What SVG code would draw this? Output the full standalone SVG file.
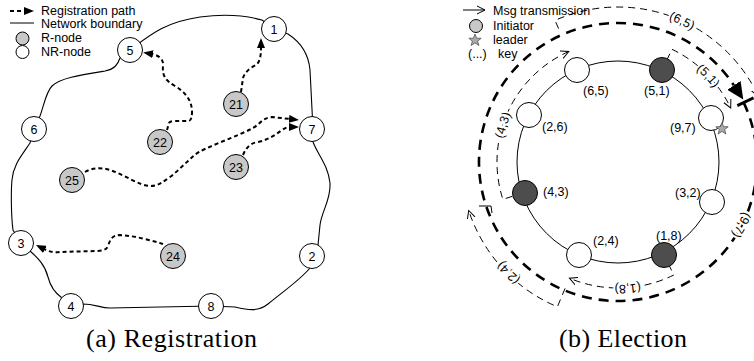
<svg xmlns="http://www.w3.org/2000/svg" width="754" height="361" viewBox="0 0 754 361">
  <style>
    .lbl { font-family: "Liberation Sans", Arial, sans-serif; font-size: 12.5px; fill: #000; }
    .mid { text-anchor: middle; }
    .cap { font-family: "Liberation Serif", "Times New Roman", serif; font-size: 26px; fill: #000; }
    .bound { fill: none; stroke: #000; stroke-width: 1.1; }
    .reg { fill: none; stroke: #000; stroke-width: 2; stroke-dasharray: 4 3; marker-end: url(#regHead); }
    .node { stroke: #000; stroke-width: 1; }
    .nr { fill: #fff; }
    .r { fill: #c8c8c8; }
    .init { fill: #4d4d4d; }
    .ring { fill: none; stroke: #000; stroke-width: 1; }
    .msg { fill: none; stroke: #000; stroke-width: 1; stroke-dasharray: 7 5; marker-end: url(#openHead); }
    .win { fill: none; stroke: #000; stroke-width: 2.6; stroke-dasharray: 10 7; marker-end: url(#bigHead); }
    .key { font-family: "Liberation Sans", Arial, sans-serif; font-size: 12.5px; fill: #000; text-anchor: middle;
           stroke: #fff; stroke-width: 4; paint-order: stroke fill; }
  </style>
  <defs>
    <marker id="regHead" markerUnits="userSpaceOnUse" markerWidth="10" markerHeight="8" refX="1" refY="4" orient="auto" viewBox="0 0 10 8">
      <path d="M0,0 L10,4 L0,8 Z" fill="#000"/>
    </marker>
    <marker id="openHead" markerUnits="userSpaceOnUse" markerWidth="10" markerHeight="10" refX="8" refY="5" orient="auto" viewBox="0 0 10 10">
      <path d="M0,1 L8,5 L0,9" fill="none" stroke="#000" stroke-width="1"/>
    </marker>
    <marker id="bigHead" markerUnits="userSpaceOnUse" markerWidth="18" markerHeight="16" refX="0" refY="8" orient="auto" viewBox="0 0 18 16">
      <path d="M0,0 L17,8 L0,16 Z" fill="#000"/>
    </marker>
    <!-- baselines for the key labels written along the message arcs -->
    <path id="k65" d="M616.4,11.0 A151,151 0 0 1 732.7,63.7"/>
    <path id="k51" d="M662.0,49.3 A121,121 0 0 1 732.6,123.2"/>
    <path id="k43" d="M501.9,176.7 A117,117 0 0 1 532.2,82.5"/>
    <path id="k18" d="M678.4,269.2 A123,123 0 0 1 574.7,277.1"/>
    <path id="k24" d="M566.8,305.1 A152,152 0 0 1 475.4,214.7"/>
    <path id="k97" d="M752.9,166.7 A135,135 0 0 1 701.1,268.4"/>
  </defs>

  <!-- ===== (a) Registration ===== -->
  <g id="legend-a">
    <path d="M10,11 L25,11" class="reg"/>
    <text class="lbl" x="41" y="15">Registration path</text>
    <line x1="10" y1="23" x2="34" y2="23" stroke="#000" stroke-width="1"/>
    <text class="lbl" x="41" y="28">Network boundary</text>
    <circle cx="22.5" cy="38.5" r="6.5" class="node r"/>
    <text class="lbl" x="41" y="42">R-node</text>
    <circle cx="22.5" cy="52" r="6.5" class="node nr"/>
    <text class="lbl" x="41" y="56">NR-node</text>
  </g>

  <g id="boundary">
    <path class="bound" d="M130,50 C150,35 165,22 200,17 C215,15 240,14 262,20 L274,29
      L288,34 Q308,47 310,70 L313,129
      L313,142 C318,155 328,165 330,183 C331,200 322,210 320,225 L318,245 L312,256
      L310,268 C300,280 285,290 268,304 C258,312 248,310 235,307 L211,306
      L110,308 C100,308 95,304 83,304 L71,306
      L62,298 C55,293 50,285 48,277 C45,265 38,258 30,251 L21,243
      L13,230 C11,215 11,190 12,180 C13,165 22,155 30,143 L34,129
      L40,116 C44,105 46,92 52,86 C60,78 80,75 105,71 C115,69 118,64 120,58 Z"/>
  </g>

  <g id="registration-paths">
    <path class="reg" d="M167,130 L169,123 Q170,121 175,121 L189,121 Q192,120 192,112 C192,100 185,92 175,86 C166,81 162,76 163,66 C164,59 158,55 152,54"/>
    <path class="reg" d="M241,92 L243,78 C245,72 250,68 256,65 C260,62 261,56 261,47"/>
    <path class="reg" d="M85,172 C92,168 100,167 110,170 C125,175 140,186 150,186 C158,186 163,182 170,177 C178,171 182,166 187,162 C192,157 196,153 205,149 C220,142 240,135 253,128 C260,124 262,118 272,117 L290,119"/>
    <path class="reg" d="M243,155 C246,148 250,143 258,142 C268,140 275,135 282,130 C285,128 287,127 290,127"/>
    <path class="reg" d="M163,244 C150,240 135,236 120,235 C112,235 110,240 108,246 C106,251 100,251 95,251 L60,252 C55,253 50,252 44,249"/>
  </g>

  <g id="n5"><circle cx="130" cy="50" r="12.5" class="node nr"/><text class="lbl mid" x="130" y="54.5">5</text></g>
  <g id="n1"><circle cx="274" cy="29" r="12.5" class="node nr"/><text class="lbl mid" x="274" y="33.5">1</text></g>
  <g id="n7"><circle cx="312" cy="129" r="12.5" class="node nr"/><text class="lbl mid" x="312" y="133.5">7</text></g>
  <g id="n6"><circle cx="34" cy="129" r="12.5" class="node nr"/><text class="lbl mid" x="34" y="133.5">6</text></g>
  <g id="n3"><circle cx="21" cy="243" r="12.5" class="node nr"/><text class="lbl mid" x="21" y="247.5">3</text></g>
  <g id="n2"><circle cx="312" cy="256" r="12.5" class="node nr"/><text class="lbl mid" x="312" y="260.5">2</text></g>
  <g id="n8"><circle cx="211" cy="306" r="12.5" class="node nr"/><text class="lbl mid" x="211" y="310.5">8</text></g>
  <g id="n4"><circle cx="71" cy="306" r="12.5" class="node nr"/><text class="lbl mid" x="71" y="310.5">4</text></g>
  <g id="n21"><circle cx="236" cy="104" r="12.5" class="node r"/><text class="lbl mid" x="236" y="108.5">21</text></g>
  <g id="n22"><circle cx="160" cy="142" r="12.5" class="node r"/><text class="lbl mid" x="160" y="146.5">22</text></g>
  <g id="n23"><circle cx="236" cy="167" r="12.5" class="node r"/><text class="lbl mid" x="236" y="171.5">23</text></g>
  <g id="n25"><circle cx="72" cy="180" r="12.5" class="node r"/><text class="lbl mid" x="72" y="184.5">25</text></g>
  <g id="n24"><circle cx="173" cy="256" r="12.5" class="node r"/><text class="lbl mid" x="173" y="260.5">24</text></g>

  <text class="cap" x="86" y="347" textLength="171">(a) Registration</text>

  <!-- ===== (b) Election ===== -->
  <g id="legend-b">
    <line x1="463" y1="10" x2="485" y2="10" stroke="#000" stroke-width="1" marker-end="url(#openHead)"/>
    <text class="lbl" x="493" y="15">Msg transmission</text>
    <circle cx="476" cy="26" r="6.5" class="node r"/>
    <text class="lbl" x="493" y="30">Initiator</text>
    <polygon points="475,34 476.6,38.2 481.2,38.3 477.6,41.1 478.9,45.5 475,42.9 471.1,45.5 472.4,41.1 468.8,38.3 473.4,38.2" fill="#aaa" stroke="#555" stroke-width="0.8"/>
    <text class="lbl" x="493" y="44">leader</text>
    <text class="lbl" x="468" y="58">(...)</text>
    <text class="lbl" x="498" y="58">key</text>
  </g>

  <g id="messages">
    <path class="msg" d="M512.4,196.3 L502.9,199.4 A121,121 0 0 1 568.8,51.5"/>
    <path class="msg" d="M558.6,28.6 L555.0,20.4 A155,155 0 0 1 758.5,96.5"/>
    <path class="msg" d="M666.8,60.1 L672.0,49.3 A125,125 0 0 1 730.7,108.0"/>
    <path class="msg" d="M668.5,264.2 L673.8,275.0 A126,126 0 0 1 569.4,278.2"/>
    <path class="msg" d="M565.1,288.4 L557.4,306.8 A157,157 0 0 1 468.7,210.5"/>
    <path d="M479,206 L491,206 L492,213" fill="none" stroke="#000" stroke-width="1"/>
    <line x1="737.3" y1="105.6" x2="753.6" y2="97.9" stroke="#000" stroke-width="3"/>
    <path class="win" d="M743.7,102.6 A139,139 0 0 1 618,301 A139,139 0 0 1 497.6,92.5 A139,139 0 0 1 733.9,85.3"/>
    <text class="key"><textPath href="#k65" startOffset="50%">(6,5)</textPath></text>
    <text class="key"><textPath href="#k51" startOffset="50%">(5,1)</textPath></text>
    <text class="key"><textPath href="#k43" startOffset="50%">(4,3)</textPath></text>
    <text class="key"><textPath href="#k18" startOffset="50%">(1,8)</textPath></text>
    <text class="key"><textPath href="#k24" startOffset="50%">(2,4)</textPath></text>
    <text class="key"><textPath href="#k97" startOffset="50%">(9,7)</textPath></text>
  </g>

  <circle cx="618" cy="162" r="101" class="ring"/>

  <g id="e65"><circle cx="577" cy="70" r="12.5" class="node nr"/><text class="lbl" x="583" y="95">(6,5)</text></g>
  <g id="e51"><circle cx="662" cy="70" r="12.5" class="node init"/><text class="lbl" x="644" y="95">(5,1)</text></g>
  <g id="e97"><circle cx="711" cy="118" r="12.5" class="node nr"/><text class="lbl" x="670" y="132">(9,7)</text>
    <polygon points="722,122.5 723.6,126.7 728.2,126.8 724.6,129.6 725.9,134 722,131.4 718.1,134 719.4,129.6 715.8,126.8 720.4,126.7" fill="#aaa" stroke="#555" stroke-width="0.8"/></g>
  <g id="e32"><circle cx="712" cy="202" r="12.5" class="node nr"/><text class="lbl" x="675" y="197">(3,2)</text></g>
  <g id="e18"><circle cx="664" cy="255" r="12.5" class="node init"/><text class="lbl" x="656" y="240">(1,8)</text></g>
  <g id="e24"><circle cx="579" cy="255" r="12.5" class="node nr"/><text class="lbl" x="593" y="245">(2,4)</text></g>
  <g id="e43"><circle cx="525" cy="193" r="12.5" class="node init"/><text class="lbl" x="543" y="196">(4,3)</text></g>
  <g id="e26"><circle cx="529" cy="115" r="12.5" class="node nr"/><text class="lbl" x="542" y="131">(2,6)</text></g>

  <text class="cap" x="559" y="347" textLength="128">(b) Election</text>
</svg>
